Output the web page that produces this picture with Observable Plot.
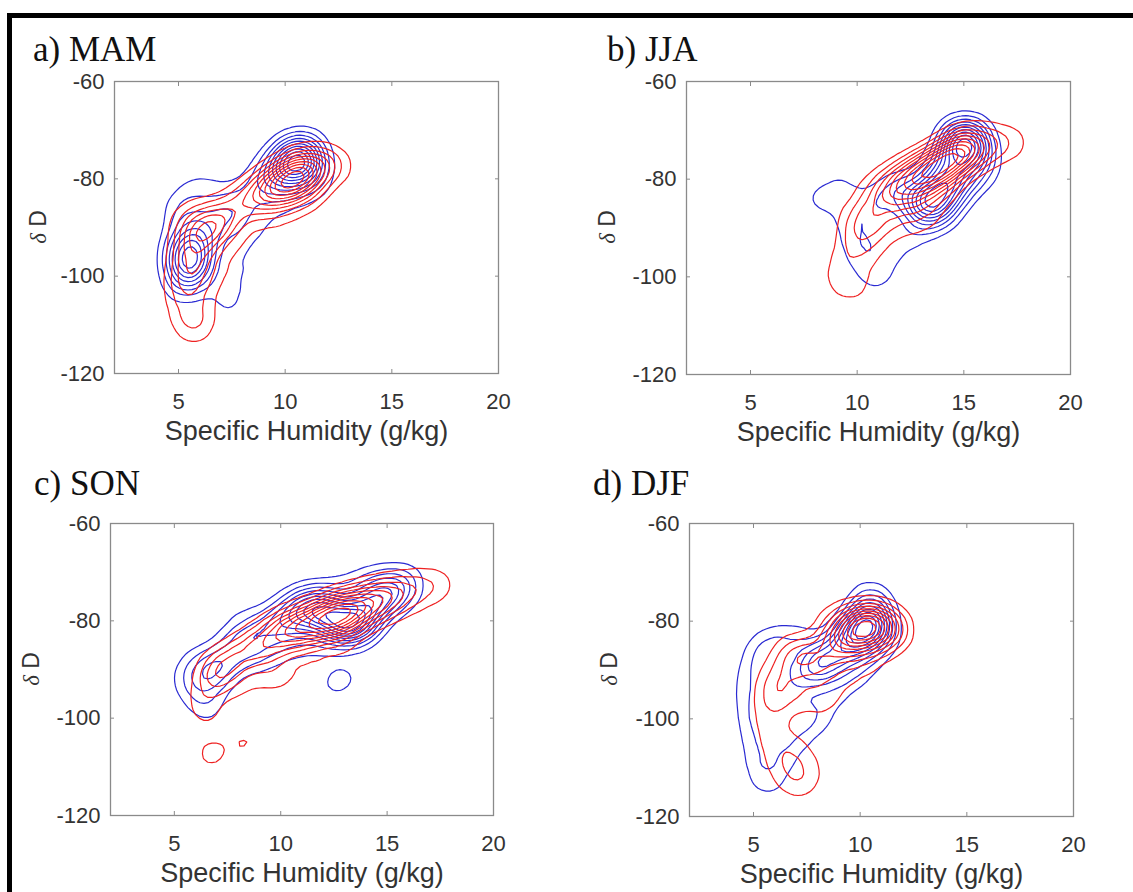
<!DOCTYPE html>
<html>
<head>
<meta charset="utf-8">
<script src="https://cdn.jsdelivr.net/npm/d3@7"></script>
<script src="https://cdn.jsdelivr.net/npm/@observablehq/plot@0.6"></script>
<style>
  html, body { margin: 0; padding: 0; background: #fff; overflow: hidden; }
  #fig { position: relative; width: 1133px; height: 892px; background: #fff; overflow: hidden; }
  #border { position: absolute; left: 7px; top: 13px; width: 1300px; height: 1000px;
            border-top: 5px solid #000; border-left: 5px solid #000; box-sizing: border-box; }
  .panel { position: absolute; }
  #overlay { position: absolute; left: 0; top: 0; pointer-events: none; }
</style>
</head>
<body>
<div id="fig"><div id="border"></div></div>
<script>
// ---- data: sample points [specific humidity, deltaD, weight] ----
const xTicks = [5, 10, 15, 20];
const yTicks = [-120, -100, -80, -60];
const xLabel = "Specific Humidity (g/kg)";
const titles = ["a) MAM", "b) JJA", "c) SON", "d) DJF"];

const mamBlue = [
  [5.2,-100,3],[5.4,-97,4],[5.5,-94,3.5],[5.6,-91,2.5],[5.3,-88,1.5],[5.8,-99,2.5],[6.0,-96,2.5],[5.0,-95,2],
  [5.2,-103,1],[5.0,-86,1],[5.6,-83,1.2],[6.2,-82,0.8],
  [6.3,-90,1.5],[6.8,-87,1.5],[7.3,-89,1.5],[7.5,-86,1.2],[6.6,-93,1.2],[8.0,-84,1.2],[8.6,-82,1.5],[7.0,-82,0.6],
  [8.2,-92,0.9],[8.6,-89,0.9],[7.8,-97,1],[7.6,-101,0.9],[7.4,-105,0.8],[7.3,-107,0.6],[9.5,-87,0.8],
  [10.5,-85,0.7],[6.5,-102,0.5],
  [9.2,-79,2],[9.7,-78,2.5],[10.1,-77,3.5],[10.5,-76,4],[10.9,-75,3.5],[11.2,-76.5,2.5],[10.8,-78.5,2.5],
  [10.3,-80,2],[11.4,-79,1.2],[10.2,-73.5,1.2],[11.0,-72.5,1],[9.5,-82,1.2],[11.5,-83,0.7]
];
const mamRed = [
  [5.4,-96,2],[5.7,-93,2.5],[6.1,-91,3],[6.6,-90,3],[7.0,-89,2.5],[7.4,-87,2],[5.5,-99,1.5],[6.2,-96,1.8],
  [5.3,-89,1.5],[6.0,-87,1.2],[5.3,-101,1.4],[5.9,-101,1.1],
  [5.2,-103,1.5],[5.3,-107,1.3],[5.5,-110,1.2],[5.9,-111,1.1],[6.2,-107,1],[6.8,-101,0.8],[7.6,-97,0.7],
  [8.4,-94,0.7],[9.2,-90,0.6],[10.3,-88,0.6],
  [7.9,-85,1.8],[8.5,-84,2.2],[9.0,-82.5,3],[9.5,-81.5,3.5],[10.0,-80.5,4.5],[10.4,-79.5,4.5],[10.8,-78.5,4],
  [11.2,-78,3],[11.6,-77.5,2.2],[12.1,-77,1.5],[12.6,-77.5,1],[10.0,-83.5,2],[10.8,-82,1.8],[11.4,-84,0.8],[9.2,-86,1]
];
const jjaBlue = [
  [7.7,-84,0.5],[8.3,-84.5,0.5],[8.9,-83,0.6],[9.4,-81,0.7],[9.6,-87,0.9],[9.8,-91,0.9],[10.0,-95,0.8],
  [10.4,-98,0.7],[10.9,-101,0.7],[11.3,-98,0.6],[10.7,-92,0.9],[11.5,-94,0.8],[12.3,-92,0.8],[12.9,-90,0.9],
  [10.6,-86,1],[11.3,-84,1.2],[12.0,-82,1.5],[12.6,-84,2],[13.2,-85,3],[13.6,-84.5,3.5],[14.0,-83,3],
  [14.2,-80,2.5],[14.3,-77,2.5],[14.6,-74,3],[14.8,-72,4],[15.2,-71.5,3.5],[15.6,-73,2.5],[15.5,-76,2],
  [15.2,-79,2],[14.7,-82,2],[14.0,-87,1.2],[13.3,-88,1],[15.9,-78,1],[13.5,-79,1.5]
];
const jjaRed = [
  [9.0,-101,0.7],[9.6,-102,0.7],[10.3,-102,0.6],[9.3,-97,0.8],[9.8,-94,1.2],[10.2,-91,1.4],[9.8,-88,1],
  [10.6,-88,1.6],[11.2,-90,1],[10.8,-96,0.7],[11.3,-85,1.6],[10.6,-83,1.2],
  [11.5,-82,2],[12.0,-81,2.5],[12.5,-80,3],[13.0,-79,3.5],[13.5,-78,4],[14.0,-77,4.5],[14.5,-75.5,4.5],
  [15.0,-74,4],[15.5,-73.5,2.5],[16.1,-73,1.6],[16.8,-72.5,1.1],[17.5,-72.5,0.8],[12.3,-85,1.6],[13.1,-84,1.6],
  [14.0,-82,1.2],[12.3,-90,0.7],[13.3,-88,0.8]
];
const sonBlue = [
  [5.7,-92,0.9],[6.2,-95,0.8],[6.6,-98,0.7],[6.2,-89,1],[6.9,-91,1.6],[7.3,-88,1.2],[7.8,-85,1],[8.5,-84,1.1],
  [9.2,-82,1.3],[9.9,-80,1.5],[10.6,-79,2],[11.3,-78,2.5],[12.0,-78,2.8],[12.6,-80,3],[13.2,-81,3.5],
  [13.8,-80,3],[14.3,-77,2.5],[14.9,-75,2],[15.5,-73.5,1.5],[15.9,-72,0.9],[13.4,-74,1.2],[12.2,-75,1],
  [11.0,-76,0.8],[14.5,-72,1],
  [12.3,-93,0.6],[13.2,-91.5,0.6],[10.5,-85,0.8],[11.8,-84,0.9],[8.5,-88,0.8],[9.5,-87,0.6],[8.2,-80,0.5]
];
const sonRed = [
  [6.3,-97,0.7],[6.6,-100,0.5],[6.8,-93,1],[7.0,-90.5,1.6],[7.5,-89,1.6],[8.2,-87,1.8],[9.0,-85,2],[9.8,-83,2.5],
  [10.5,-82,3],[11.2,-81,3.5],[12.0,-80,4],[12.6,-79,4],[13.2,-78,3.5],[13.8,-77,3],[14.5,-76,2.5],[15.2,-75,2],
  [16.0,-74,1.5],[16.8,-73,1],[17.6,-72.5,0.7],[8.5,-95,0.6],[10.0,-92,0.7],[11.5,-89,0.7],[13.0,-86,0.7],
  [9.5,-89,0.8],[6.7,-107.5,1.0],[8.4,-105,0.88]
];
const djfBlue = [
  [4.9,-92,1],[5.0,-97,1.1],[5.1,-102,1],[5.3,-107,0.9],[5.5,-111,0.8],[5.7,-114,0.5],[5.3,-87,1],[5.8,-85,0.9],
  [6.5,-84,0.8],[6.0,-91,1.2],[6.0,-99,1.1],[6.2,-104,0.9],[6.6,-109,0.6],[7.0,-103,0.8],[7.6,-100,0.8],
  [6.8,-95,1],[7.3,-91,1.3],[7.8,-89,1.6],[8.3,-89,2],[8.8,-87,1.8],[9.3,-85,2],[9.7,-83,2.4],[10.1,-81.5,3],
  [10.5,-80.5,2.8],[10.6,-78,1.8],[10.4,-75.5,1.2],[10.9,-83,1.6],[10.3,-87,1.2],[9.7,-91,0.9],[8.8,-95,0.8],
  [8.0,-99,0.7],[7.5,-84,0.8]
];
const djfRed = [
  [5.9,-92,0.9],[5.8,-98,1.0],[5.8,-103,1.0],[6.0,-95,1.0],[6.2,-108,1.0],[6.6,-112,0.9],[7.3,-113.5,0.8],
  [7.6,-110,0.8],[7.0,-106,0.8],[6.6,-94,1],[6.5,-89,1.1],[6.8,-86,1.1],[7.3,-88,1.4],[7.8,-87,1.6],[8.2,-91,1.1],
  [7.6,-96,0.9],[8.6,-97,0.7],[8.8,-85,2],[9.3,-83.5,2.5],[9.8,-82,3.5],[10.3,-81,3.8],[10.8,-80.5,3.2],
  [11.3,-81.5,2],[11.7,-82,1.2],[9.3,-91,0.9],[10.2,-88,1],[10.8,-85,1.2],[8.6,-80.5,1],[9.5,-79.5,1.2]
];

// ---- layout ----
const layout = [
  {blue: mamBlue, red: mamRed, left: 0,   top: 0,   width: 566, height: 446, ml: 114, mr: 68, mt: 81, mb: 73, tx: 33,  ty: 61,  lx: 38,  ly: 227},
  {blue: jjaBlue, red: jjaRed, left: 566, top: 0,   width: 567, height: 446, ml: 120, mr: 63, mt: 81, mb: 72, tx: 607, ty: 61,  lx: 607, ly: 227},
  {blue: sonBlue, red: sonRed, left: 0,   top: 446, width: 566, height: 446, ml: 110, mr: 73, mt: 77, mb: 77, tx: 34,  ty: 495, lx: 31,  ly: 669},
  {blue: djfBlue, red: djfRed, left: 566, top: 446, width: 567, height: 446, ml: 123, mr: 60, mt: 77, mb: 76, tx: 593, ty: 495, lx: 609, ly: 669}
];

const BLUE = "#2a2ad2";
const RED = "#ee2222";
const BOX = "#8a8a8a";
const INK = "#333333";
const sans = "'Liberation Sans', Arial, Helvetica, sans-serif";
const serif = "'Liberation Serif', 'Times New Roman', serif";
const fmt = d => String(d);

const fig = document.getElementById("fig");

layout.forEach((p, i) => {
  const dens = (data, color) => Plot.density(data, {
    x: d => d[0], y: d => d[1], weight: d => d[2],
    bandwidth: 12, thresholds: 11, stroke: color, strokeWidth: 1.2, fill: "none"
  });
  const chart = Plot.plot({
    width: p.width, height: p.height,
    marginLeft: p.ml, marginRight: p.mr, marginTop: p.mt, marginBottom: p.mb,
    x: {domain: [2, 20]},
    y: {domain: [-120, -60]},
    style: {fontFamily: sans, background: "transparent", color: INK, overflow: "visible"},
    marks: [
      dens(p.blue, BLUE),
      dens(p.red, RED),
      Plot.frame({stroke: BOX, strokeWidth: 1.3}),
      // inward ticks on all four sides
      Plot.axisX(xTicks, {anchor: "bottom", tickSize: 4, dy: -4, fill: "none", stroke: BOX, label: null}),
      Plot.axisX(xTicks, {anchor: "top", tickSize: 4, dy: 4, fill: "none", stroke: BOX, label: null}),
      Plot.axisY(yTicks, {anchor: "left", tickSize: 4, dx: 4, fill: "none", stroke: BOX, label: null}),
      Plot.axisY(yTicks, {anchor: "right", tickSize: 4, dx: -4, fill: "none", stroke: BOX, label: null}),
      // tick labels
      Plot.axisX(xTicks, {anchor: "bottom", tickSize: 0, tickPadding: 20, fontSize: 22, label: null, fill: INK, tickFormat: fmt}),
      Plot.axisY(yTicks, {anchor: "left", tickSize: 0, tickPadding: 10, fontSize: 22, label: null, fill: INK, tickFormat: fmt}),
      // axis title
      Plot.axisX([], {anchor: "bottom", tickSize: 0, fontSize: 27, label: xLabel, labelAnchor: "center", labelOffset: 66, labelArrow: "none", fill: INK})
    ]
  });
  chart.classList.add("panel");
  chart.style.left = p.left + "px";
  chart.style.top = p.top + "px";
  fig.appendChild(chart);
});

// overlay with panel titles and y-axis titles
const ns = "http://www.w3.org/2000/svg";
const ov = document.createElementNS(ns, "svg");
ov.setAttribute("id", "overlay");
ov.setAttribute("width", 1133);
ov.setAttribute("height", 892);
layout.forEach((p, i) => {
  const t = document.createElementNS(ns, "text");
  t.setAttribute("x", p.tx);
  t.setAttribute("y", p.ty);
  t.setAttribute("font-family", serif);
  t.setAttribute("font-size", 35);
  t.setAttribute("fill", "#111");
  t.textContent = titles[i];
  ov.appendChild(t);

  const yl = document.createElementNS(ns, "text");
  yl.setAttribute("transform", `translate(${p.lx},${p.ly}) rotate(-90)`);
  yl.setAttribute("text-anchor", "middle");
  yl.setAttribute("dy", "0.35em");
  yl.setAttribute("fill", INK);
  yl.setAttribute("font-size", 23);
  const d1 = document.createElementNS(ns, "tspan");
  d1.setAttribute("font-family", serif);
  d1.setAttribute("font-style", "italic");
  d1.textContent = "δ";
  const d2 = document.createElementNS(ns, "tspan");
  d2.setAttribute("font-family", sans);
  d2.textContent = "\u00a0D";
  yl.appendChild(d1); yl.appendChild(d2);
  ov.appendChild(yl);
});
fig.appendChild(ov);
</script>
</body>
</html>
